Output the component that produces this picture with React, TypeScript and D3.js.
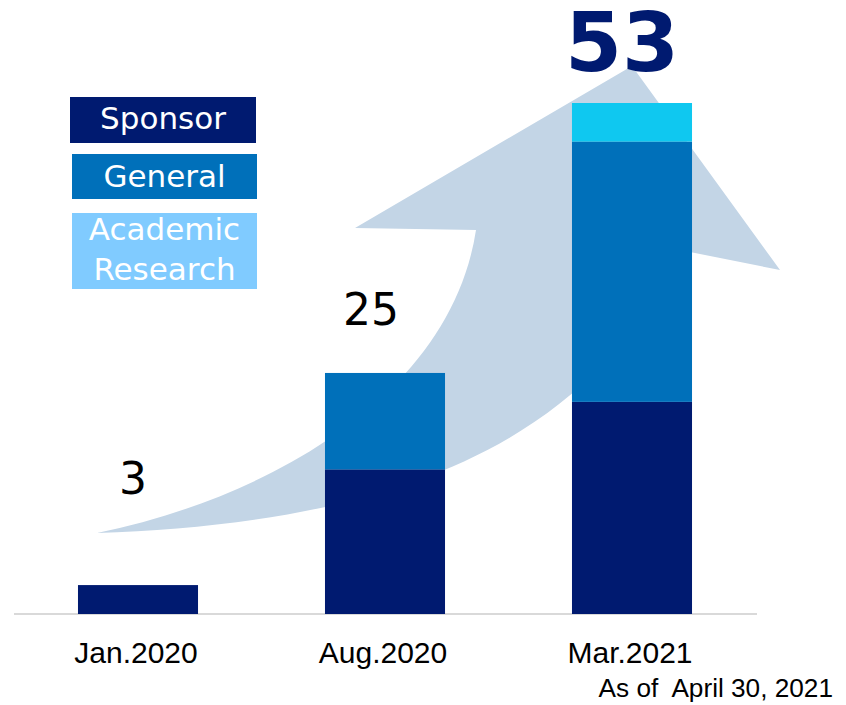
import React from "react";
import * as d3 from "d3";

const categories = ["Jan.2020", "Aug.2020", "Mar.2021"];
const sponsor = [3, 15, 22];
const general = [0, 10, 27];
const academic = [0, 0, 4];
const totals = [3, 25, 53];
const seriesNames = ["Sponsor", "General", "Academic Research"];
const note = "As of  April 30, 2021";

const W = 846;
const H = 705;
const colors = ["#001A70", "#0070BA", "#0FC8F0"];
const legendColors = ["#001A70", "#0070BA", "#80CBFF"];

export default function App() {
  const x = d3
    .scaleBand<string>()
    .domain(categories)
    .range([14.5, 755.5])
    .paddingInner(0.514)
    .paddingOuter(0.257);
  const y = d3.scaleLinear().domain([0, 53]).range([614, 103]);

  const rows = categories.map((c, i) => ({
    cat: c,
    Sponsor: sponsor[i],
    General: general[i],
    Academic: academic[i],
  }));
  const stack = d3.stack<any>().keys(["Sponsor", "General", "Academic"]);
  const layers = stack(rows);

  const arrow =
    "M97,533 C340,525 580,470 680,250 L780,270 L632,66 L355,228 L476,230 C450,400 260,500 97,533 Z";

  const labelDx = [-5, -14, -10];
  const labelDy = [-91, -48, -32];
  const labelSize = [44, 44, 82];
  const labelWeight = ["normal", "normal", "bold"];
  const labelColor = ["#000", "#000", "#001A70"];

  const legend = [
    { y: 97, h: 46, x0: 70, x1: 256, lines: [{ t: "Sponsor", b: 129 }] },
    { y: 154, h: 45, x0: 72, x1: 257, lines: [{ t: "General", b: 187 }] },
    {
      y: 213,
      h: 76,
      x0: 72,
      x1: 257,
      lines: [
        { t: "Academic", b: 240 },
        { t: "Research", b: 280 },
      ],
    },
  ];

  return (
    <svg
      width={W}
      height={H}
      style={{ position: "absolute", left: 0, top: 0, background: "#fff" }}
    >
      <path d={arrow} fill="#C3D5E6" />
      <line x1={14} x2={757} y1={614} y2={614} stroke="#D9D9D9" strokeWidth={2} />
      {layers.map((layer, li) =>
        layer.map((d, i) =>
          d[1] - d[0] > 0 ? (
            <rect
              key={`${li}-${i}`}
              x={x(categories[i])}
              width={x.bandwidth()}
              y={y(d[1])}
              height={y(d[0]) - y(d[1])}
              fill={colors[li]}
            />
          ) : null
        )
      )}
      {totals.map((t, i) => (
        <text
          key={`t${i}`}
          x={(x(categories[i]) as number) + x.bandwidth() / 2 + labelDx[i]}
          y={y(t) + labelDy[i]}
          textAnchor="middle"
          fontFamily="DejaVu Sans"
          fontSize={labelSize[i]}
          fontWeight={labelWeight[i] as any}
          fill={labelColor[i]}
        >
          {t}
        </text>
      ))}
      {categories.map((c, i) => (
        <text
          key={`c${i}`}
          x={(x(c) as number) + x.bandwidth() / 2 - 2}
          y={663}
          textAnchor="middle"
          fontFamily="Liberation Sans"
          fontSize={30}
          fill="#000"
        >
          {c}
        </text>
      ))}
      <text
        x={833}
        y={697}
        textAnchor="end"
        fontFamily="Liberation Sans"
        fontSize={26.2}
        fill="#000"
        style={{ whiteSpace: "pre" }}
      >
        {note}
      </text>
      {legend.map((l, i) => (
        <g key={`l${i}`}>
          <rect x={l.x0} y={l.y} width={l.x1 - l.x0} height={l.h} fill={legendColors[i]} />
          {l.lines.map((ln, j) => (
            <text
              key={j}
              x={(l.x0 + l.x1) / 2}
              y={ln.b}
              textAnchor="middle"
              fontFamily="DejaVu Sans"
              fontSize={31}
              fill="#fff"
              aria-label={j === 0 ? seriesNames[i] : undefined}
            >
              {ln.t}
            </text>
          ))}
        </g>
      ))}
    </svg>
  );
}
